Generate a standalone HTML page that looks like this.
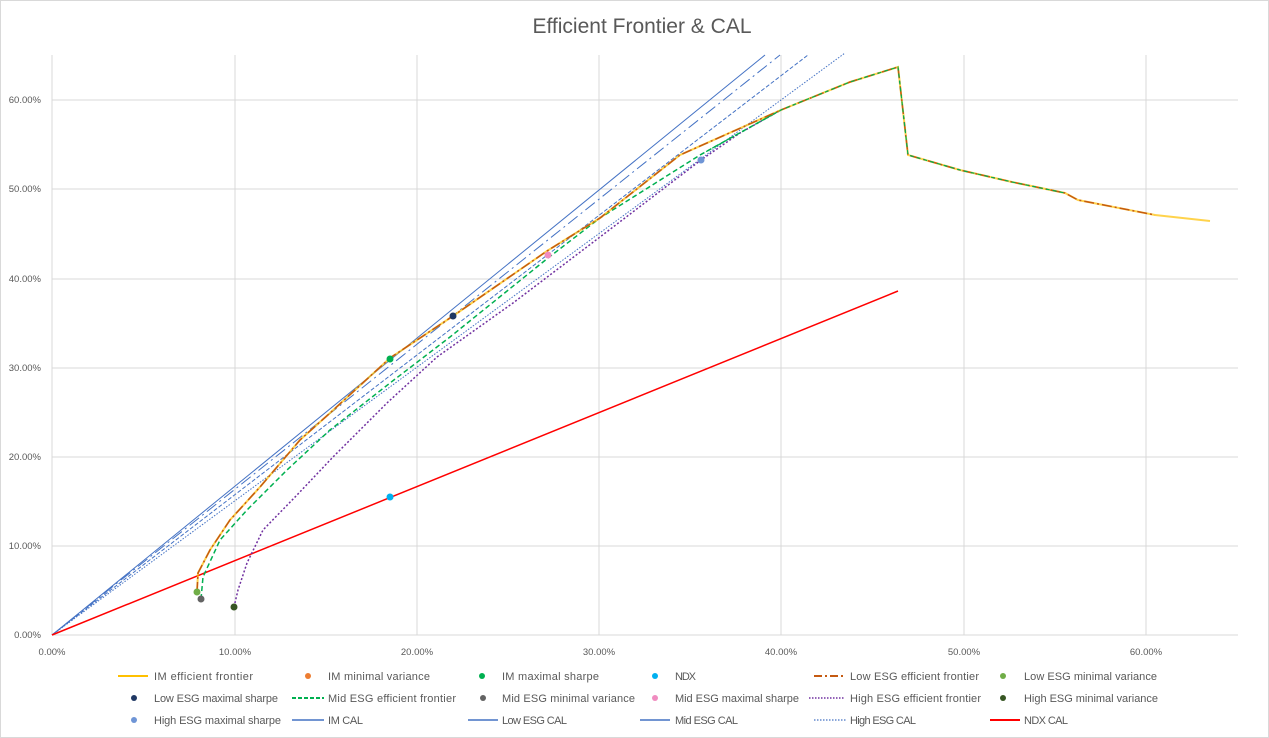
<!DOCTYPE html><html><head><style>body{margin:0;background:#fff}svg{display:block;font-family:"Liberation Sans",sans-serif}</style></head><body>
<svg width="1269" height="738" viewBox="0 0 1269 738">
<rect x="0.5" y="0.5" width="1268" height="737" fill="#fff" stroke="#d9d9d9"/>
<text x="642" y="33" font-size="21" fill="#595959" text-anchor="middle">Efficient Frontier &amp; CAL</text>
<g stroke="#d9d9d9" stroke-width="1">
<line x1="52" y1="546" x2="1238" y2="546"/><line x1="52" y1="457" x2="1238" y2="457"/><line x1="52" y1="368" x2="1238" y2="368"/><line x1="52" y1="279" x2="1238" y2="279"/><line x1="52" y1="189" x2="1238" y2="189"/><line x1="52" y1="100" x2="1238" y2="100"/>
<line x1="235" y1="55" x2="235" y2="635"/><line x1="417" y1="55" x2="417" y2="635"/><line x1="599" y1="55" x2="599" y2="635"/><line x1="781" y1="55" x2="781" y2="635"/><line x1="964" y1="55" x2="964" y2="635"/><line x1="1146" y1="55" x2="1146" y2="635"/>
<line x1="52" y1="55" x2="52" y2="635"/><line x1="52" y1="635" x2="1238" y2="635"/>
</g>
<g font-size="9.5" fill="#595959" text-anchor="end">
<text x="41" y="638">0.00%</text><text x="41" y="549">10.00%</text><text x="41" y="460">20.00%</text><text x="41" y="371">30.00%</text><text x="41" y="282">40.00%</text><text x="41" y="192">50.00%</text><text x="41" y="103">60.00%</text>
</g>
<g font-size="9.5" fill="#595959" text-anchor="middle">
<text x="52" y="655">0.00%</text><text x="235" y="655">10.00%</text><text x="417" y="655">20.00%</text><text x="599" y="655">30.00%</text><text x="781" y="655">40.00%</text><text x="964" y="655">50.00%</text><text x="1146" y="655">60.00%</text>
</g>
<g fill="none" stroke="#4472c4" stroke-width="1">
<line x1="52" y1="635" x2="765" y2="55"/>
<line x1="52" y1="635" x2="780" y2="55" stroke-dasharray="12,4,2,4"/>
<line x1="52" y1="635" x2="808" y2="55" stroke-dasharray="4,2"/>
<line x1="52" y1="635" x2="845" y2="53" stroke-dasharray="1.5,1.5"/>
</g>
<line x1="52" y1="635" x2="898" y2="291" stroke="#ff0000" stroke-width="1.5"/>
<polyline fill="none" stroke="#7030a0" stroke-width="1.5" stroke-dasharray="2,2" points="234,607 238,590 247,563 263,530 297,495 333,457 387,403 437,357 513,303 600,237 701,160 740,133 781,110"/>
<polyline fill="none" stroke="#00b050" stroke-width="1.5" stroke-dasharray="5,3" points="201,599 203,577 220,540 247,510 287,470 330,430 390,383 450,337 548,258 600,218 700,155 781,110"/>
<polyline fill="none" stroke="#ffc000" stroke-opacity="0.7" stroke-width="2" points="197,592 198,573 210,550 230,520 260,487 300,440 330,413 390,358 453,316 547,251 600,218 680,155 781,110 850,82 898,67 908,155 960,170 1012,182 1065,193 1078,200 1155,215 1210,221"/>
<polyline fill="none" stroke="#c55a11" stroke-width="1.5" stroke-dasharray="10,3,2,3" points="197,592 198,573 210,550 230,520 260,487 300,440 330,413 390,358 453,316 547,251 600,218 680,155 781,110 850,82 898,67 908,155 960,170 1012,182 1065,193 1078,200 1155,215"/>
<polyline fill="none" stroke="#00b050" stroke-width="1.2" stroke-dasharray="4,3" points="700,155 781,110 850,82 898,67 908,155 960,170 1012,182 1065,193"/>
<circle cx="197" cy="592" r="3.5" fill="#70ad47"/>
<circle cx="201" cy="599" r="3.5" fill="#636363"/>
<circle cx="234" cy="607" r="3.5" fill="#375623"/>
<circle cx="390" cy="359" r="3.5" fill="#00b050"/>
<circle cx="453" cy="316" r="3.5" fill="#203864"/>
<circle cx="548" cy="255" r="3.5" fill="#f08cc0"/>
<circle cx="701" cy="160" r="3.5" fill="#6f95d6"/>
<circle cx="390" cy="497" r="3.5" fill="#00b0f0"/>
<g font-size="11" fill="#595959" lengthAdjust="spacingAndGlyphs">
<line x1="118" y1="676" x2="148" y2="676" stroke="#ffc000" stroke-width="2"/><text x="154" y="680" textLength="99">IM efficient frontier</text>
<circle cx="308" cy="676" r="3" fill="#ed7d31"/><text x="328" y="680" textLength="102">IM minimal variance</text>
<circle cx="482" cy="676" r="3" fill="#00b050"/><text x="502" y="680" textLength="97">IM maximal sharpe</text>
<circle cx="655" cy="676" r="3" fill="#00b0f0"/><text x="675" y="680" textLength="21">NDX</text>
<line x1="814" y1="676" x2="846" y2="676" stroke="#c55a11" stroke-width="2" stroke-dasharray="8,3,2,3"/><text x="850" y="680" textLength="129">Low ESG efficient frontier</text>
<circle cx="1003" cy="676" r="3" fill="#70ad47"/><text x="1024" y="680" textLength="133">Low ESG minimal variance</text>
<circle cx="134" cy="698" r="3" fill="#203864"/><text x="154" y="702" textLength="124">Low ESG maximal sharpe</text>
<line x1="292" y1="698" x2="324" y2="698" stroke="#00b050" stroke-width="2" stroke-dasharray="4,2"/><text x="328" y="702" textLength="128">Mid ESG efficient frontier</text>
<circle cx="483" cy="698" r="3" fill="#636363"/><text x="502" y="702" textLength="133">Mid ESG minimal variance</text>
<circle cx="655" cy="698" r="3" fill="#f08cc0"/><text x="675" y="702" textLength="124">Mid ESG maximal sharpe</text>
<line x1="809" y1="698" x2="844" y2="698" stroke="#7030a0" stroke-width="1.5" stroke-dasharray="1.5,1.5"/><text x="850" y="702" textLength="131">High ESG efficient frontier</text>
<circle cx="1003" cy="698" r="3" fill="#375623"/><text x="1024" y="702" textLength="134">High ESG minimal variance</text>
<circle cx="134" cy="720" r="3" fill="#6f95d6"/><text x="154" y="724" textLength="127">High ESG maximal sharpe</text>
<line x1="292" y1="720" x2="324" y2="720" stroke="#4472c4" stroke-width="1.5"/><text x="328" y="724" textLength="35">IM CAL</text>
<line x1="468" y1="720" x2="498" y2="720" stroke="#4472c4" stroke-width="1.5"/><text x="502" y="724" textLength="65">Low ESG CAL</text>
<line x1="640" y1="720" x2="670" y2="720" stroke="#4472c4" stroke-width="1.5"/><text x="675" y="724" textLength="63">Mid ESG CAL</text>
<line x1="814" y1="720" x2="846" y2="720" stroke="#4472c4" stroke-width="1.2" stroke-dasharray="1.5,1.5"/><text x="850" y="724" textLength="66">High ESG CAL</text>
<line x1="990" y1="720" x2="1020" y2="720" stroke="#ff0000" stroke-width="2"/><text x="1024" y="724" textLength="44">NDX CAL</text>
</g>
</svg></body></html>
